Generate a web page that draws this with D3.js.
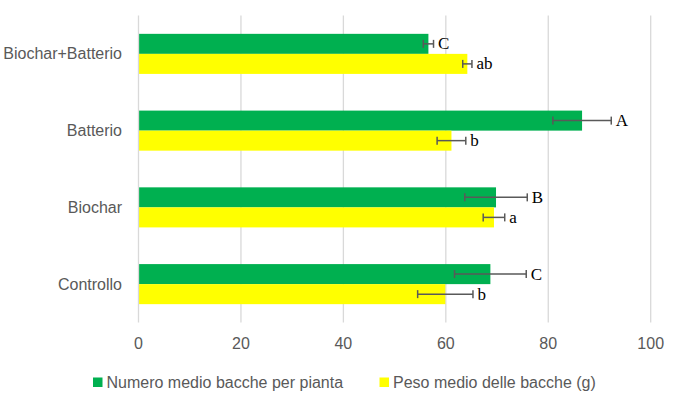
<!DOCTYPE html>
<html>
<head>
<meta charset="utf-8">
<script src="https://cdn.jsdelivr.net/npm/d3@7"></script>
<style>
	body { margin: 0; background: #fff; }
	svg { display: block; }
</style>
</head>
<body>
<svg></svg>
<script>

// chart data
var categories = ['Biochar+Batterio', 'Batterio', 'Biochar', 'Controllo'];
var seriesNames = ['Numero medio bacche per pianta', 'Peso medio delle bacche (g)'];
var numeroBacche = [56.6, 86.6, 69.8, 68.7];
var numeroErr = [1.0, 5.7, 6.1, 7.0];
var numeroLetters = ['C', 'A', 'B', 'C'];
var pesoBacche = [64.2, 61.1, 69.4, 59.9];
var pesoErr = [0.9, 2.8, 2.1, 5.4];
var pesoLetters = ['ab', 'b', 'a', 'b'];
var xTicks = [0, 20, 40, 60, 80, 100];

var CONF = {
	width: 673,
	height: 399,
	left: 138.5,
	right: 650.7,
	top: 15.5,
	bottom: 322.5,
	font: 'Liberation Sans, Arial, sans-serif',
	serif: 'Liberation Serif, Times New Roman, serif',
	grey: '#595959',
	colors: ['#00B050', '#FFFF00']
};

function drawChart() {
	var svg = d3.select('svg')
		.attr('width', CONF.width)
		.attr('height', CONF.height);

	var x = d3.scaleLinear()
		.domain([0, 100])
		.range([CONF.left, CONF.right]);

	var y = d3.scaleBand()
		.domain(categories)
		.range([CONF.top, CONF.bottom])
		.paddingInner(0.478)
		.paddingOuter(0.239);

	var sub = d3.scaleBand()
		.domain([0, 1])
		.range([0, y.bandwidth()]);

	// gridlines
	svg.append('g')
		.selectAll('line')
		.data(xTicks.slice(1))
		.enter()
		.append('line')
			.attr('x1', function(d) { return x(d); })
			.attr('x2', function(d) { return x(d); })
			.attr('y1', CONF.top)
			.attr('y2', CONF.bottom)
			.style('stroke', '#d9d9d9')
			.style('stroke-width', 1.3);

	// tick labels
	svg.append('g')
		.selectAll('text')
		.data(xTicks)
		.enter()
		.append('text')
			.attr('x', function(d) { return x(d); })
			.attr('y', 349)
			.attr('text-anchor', 'middle')
			.style('font-family', CONF.font)
			.style('font-size', '16px')
			.style('fill', CONF.grey)
			.text(function(d) { return d; });

	// category labels
	svg.append('g')
		.selectAll('text')
		.data(categories)
		.enter()
		.append('text')
			.attr('x', 122)
			.attr('y', function(d) { return y(d) + y.bandwidth() / 2 + 5.5; })
			.attr('text-anchor', 'end')
			.style('font-family', CONF.font)
			.style('font-size', '16px')
			.style('fill', CONF.grey)
			.text(function(d) { return d; });

	var series = [
		{ values: numeroBacche, err: numeroErr, letters: numeroLetters },
		{ values: pesoBacche, err: pesoErr, letters: pesoLetters }
	];

	series.forEach(function(s, si) {
		var g = svg.append('g');
		var rows = categories.map(function(c, i) {
			return { cat: c, v: s.values[i], e: s.err[i], l: s.letters[i] };
		});
		var cy = function(d) { return y(d.cat) + sub(si) + sub.bandwidth() / 2; };

		g.selectAll('rect')
			.data(rows)
			.enter()
			.append('rect')
				.attr('x', x(0))
				.attr('y', function(d) { return y(d.cat) + sub(si); })
				.attr('width', function(d) { return x(d.v) - x(0); })
				.attr('height', sub.bandwidth())
				.style('fill', CONF.colors[si]);

		// error bars
		var eb = g.selectAll('g.err')
			.data(rows)
			.enter()
			.append('g')
				.attr('class', 'err')
				.style('stroke', CONF.grey)
				.style('stroke-width', 1.5);
		eb.append('line')
			.attr('x1', function(d) { return x(d.v - d.e); })
			.attr('x2', function(d) { return x(d.v + d.e); })
			.attr('y1', cy).attr('y2', cy);
		eb.append('line')
			.attr('x1', function(d) { return x(d.v - d.e); })
			.attr('x2', function(d) { return x(d.v - d.e); })
			.attr('y1', function(d) { return cy(d) - 4; })
			.attr('y2', function(d) { return cy(d) + 4; });
		eb.append('line')
			.attr('x1', function(d) { return x(d.v + d.e); })
			.attr('x2', function(d) { return x(d.v + d.e); })
			.attr('y1', function(d) { return cy(d) - 4; })
			.attr('y2', function(d) { return cy(d) + 4; });

		// significance letters
		g.selectAll('text')
			.data(rows)
			.enter()
			.append('text')
				.attr('x', function(d) { return x(d.v + d.e) + 4.5; })
				.attr('y', function(d) { return cy(d) + 5.5; })
				.style('font-family', CONF.serif)
				.style('font-size', '17px')
				.style('fill', '#000')
				.text(function(d) { return d.l; });
	});

	// axis line
	svg.append('line')
		.attr('x1', x(0)).attr('x2', x(0))
		.attr('y1', CONF.top).attr('y2', CONF.bottom)
		.style('stroke', '#d9d9d9')
		.style('stroke-width', 1.3);

	// legend
	var legend = svg.append('g');
	var legendX = [93, 379.5];
	seriesNames.forEach(function(n, i) {
		legend.append('rect')
			.attr('x', legendX[i])
			.attr('y', 377.5)
			.attr('width', 9.5)
			.attr('height', 9.5)
			.style('fill', CONF.colors[i]);
		legend.append('text')
			.attr('x', legendX[i] + 13.5)
			.attr('y', 388)
			.style('font-family', CONF.font)
			.style('font-size', '16px')
			.style('fill', CONF.grey)
			.text(n);
	});
}

drawChart();
</script>
</body>
</html>
